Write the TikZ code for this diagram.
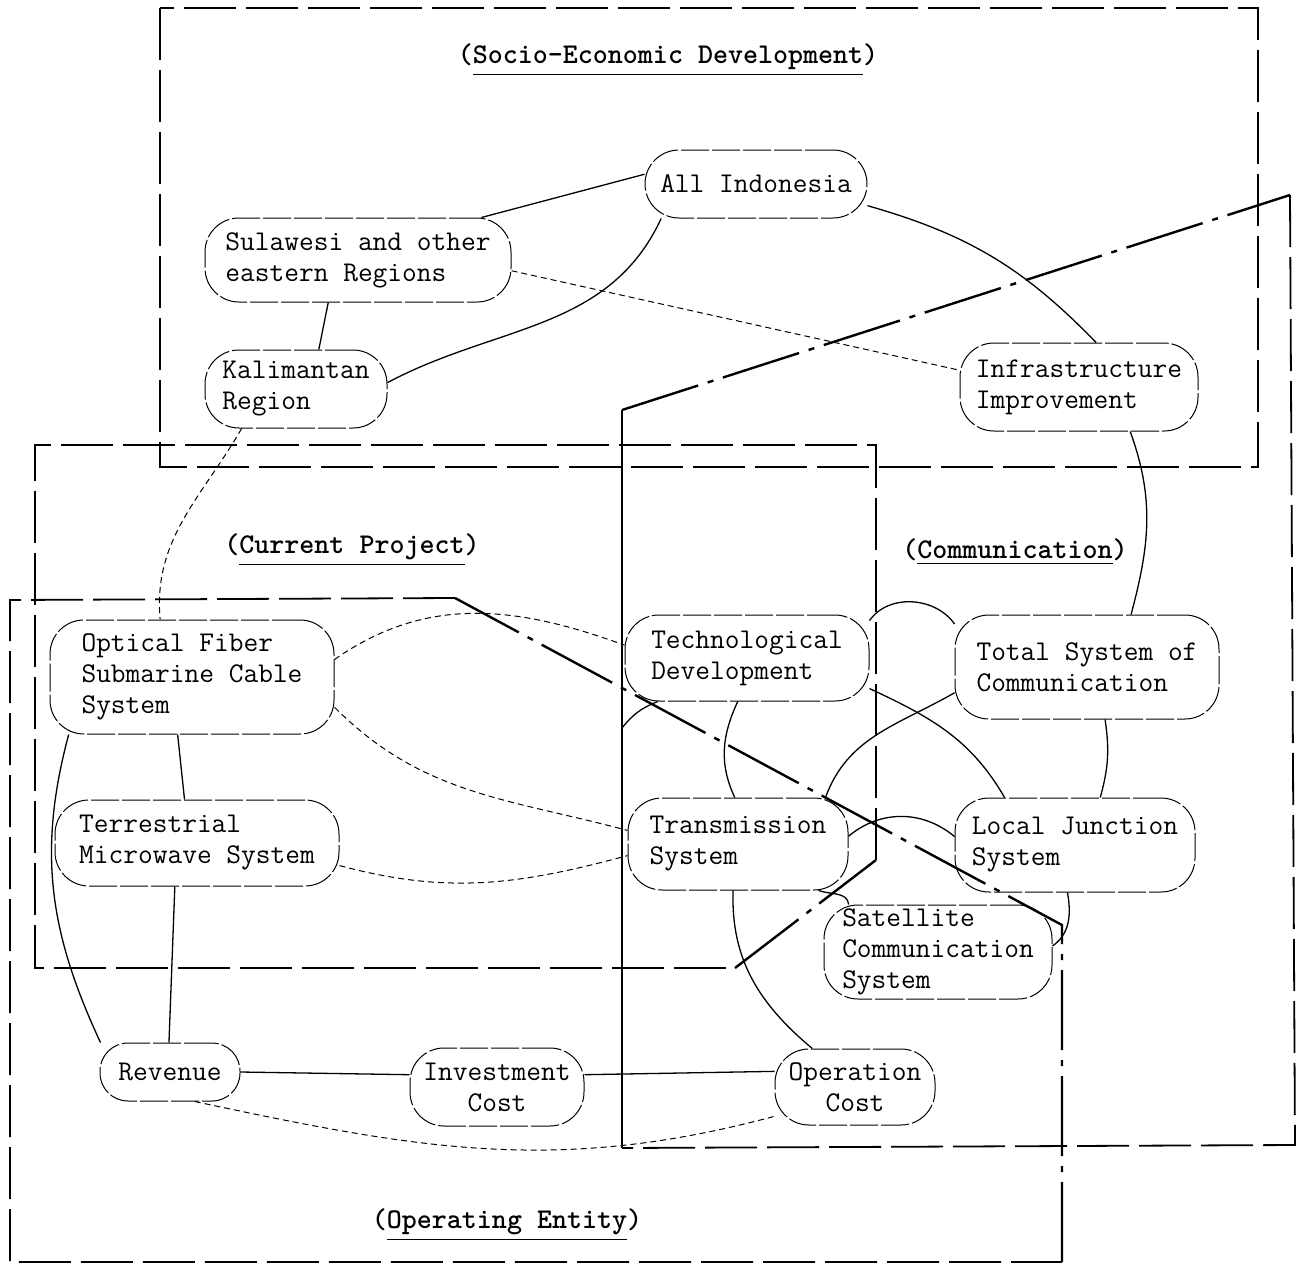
\documentclass[tikz,border=0pt]{standalone}
\usepackage{amsmath}
\usepackage{tikz}
\newcommand\boxfont{\ttfamily\fontsize{14.3}{15.5}\selectfont}
\newcommand\zonefont{\ttfamily\bfseries\fontsize{14.3}{15.5}\selectfont}

\begin{document}
\begin{tikzpicture}[x=0.5pt, y=-0.5pt,
            box/.style={draw, rounded corners=17pt, line width=0.5pt, dash pattern=on 14pt off 1.5pt, align=left, font=\boxfont, inner sep=0pt},
            link/.style={line width=0.65pt},
            faint/.style={line width=0.5pt, dash pattern=on 3pt off 2pt},
            zone/.style={line width=0.9pt, dash pattern=on 26pt off 5pt},
            cut/.style={line width=1.2pt, dash pattern=on 40pt off 5pt on 3pt off 5pt},
            title/.style={font=\zonefont}]
            \useasboundingbox (0,0) rectangle (1297,1264);
            \draw [zone] (160,8) rectangle (1258,467);
            \draw [zone] (876,860) -- (876,445) -- (35,445) -- (35,968) -- (735,968);
            \draw [cut] (735,968) -- (876,860);
            \draw [line width=1pt] (622,1148) -- (622,410);
            \draw [cut] (622,410) -- (1290,195);
            \draw [zone] (1290,195) -- (1295,1145) -- (622,1148);
            \draw [zone] (455,598) -- (10,600) -- (10,1262) -- (1062,1262);
            \draw [cut] (1062,1262) -- (1062,925) -- (455,598);
            \node (socio) at (668,60) [title] {(\underline{Socio-Economic Development})};
            \node (curr) at (352,550) [title] {(\underline{Current Project})};
            \node (comm) at (1015,552) [title] {(\underline{Communication})};
            \node (oper) at (507,1225) [title] {(\underline{Operating Entity})};
            \node (allindo) at (756,184) [box, minimum width=111pt, minimum height=34pt] {All Indonesia};
            \node (sul) at (358,260) [box, minimum width=153pt, minimum height=42pt] {Sulawesi and other\\eastern Regions};
            \node (kal) at (296,389) [box, minimum width=91pt, minimum height=39pt] {Kalimantan\\Region};
            \node (infra) at (1079,387) [box, minimum width=119pt, minimum height=44pt] {Infrastructure\\Improvement};
            \node (optic) at (192,677) [box, minimum width=142pt, minimum height=57pt] {Optical Fiber\\Submarine Cable\\System};
            \node (terr) at (197,843) [box, minimum width=142pt, minimum height=43pt] {Terrestrial\\Microwave System};
            \node (tech) at (747,658) [box, minimum width=122pt, minimum height=43pt] {Technological\\Development};
            \node (total) at (1087,667) [box, minimum width=132pt, minimum height=52pt] {Total System of\\Communication};
            \node (trans) at (738,844) [box, minimum width=110pt, minimum height=46pt] {Transmission\\System};
            \node (local) at (1075,845) [box, minimum width=120pt, minimum height=47pt] {Local Junction\\System};
            \node (sat) at (938,952) [box, minimum width=114pt, minimum height=47pt] {Satellite\\Communication\\System};
            \node (rev) at (170,1072) [box, rounded corners=14pt, minimum width=70pt, minimum height=29pt] {Revenue};
            \node (inv) at (497,1087) [box, align=center, minimum width=87pt, minimum height=39pt] {Investment\\Cost};
            \node (opcost) at (855,1087) [box, align=center, minimum width=80pt, minimum height=38pt] {Operation\\Cost};
            \coordinate (stubend) at (622,728);
            \draw [link] (sul.19) -- (allindo.175);
            \draw [link] (allindo.200) to[out=245, in=28] (kal.4);
            \draw [faint] (sul.-4) -- (infra.172);
            \draw [link] (sul.235) -- (kal.60);
            \draw [link] (allindo.-11) to[bend left=15] (infra.69);
            \draw [link] (infra.-41) to[out=-70, in=75] (total.50);
            \draw [faint] (kal.216) to[out=240, in=95] (optic.119);
            \draw [link] (optic.256) -- (terr.106);
            \draw [faint] (optic.7) to[out=35, in=160] (tech.174);
            \draw [faint] (optic.-12) to[out=-45, in=165] (trans.173);
            \draw [faint] (terr.-9) to[out=-15, in=195] (trans.186);
            \draw [link] (tech.206) to[bend right=15] (stubend);
            \draw [link] (tech.258) to[out=245, in=115] (trans.94);
            \draw [link] (tech.17) to[out=55, in=125] (total.162);
            \draw [link] (tech.-14) to[out=-25, in=120] (local.146);
            \draw [link] (total.191) to[out=210, in=70] (trans.28);
            \draw [link] (total.-71) to[bend left=12] (local.62);
            \draw [link] (trans.4) to[out=40, in=140] (local.176);
            \draw [link] (trans.-30) to[out=-20, in=95] (sat.152);
            \draw [link] (local.261) to[out=-80, in=35] (sat.3);
            \draw [link] (trans.264) to[out=268, in=140] (opcost.138);
            \draw [link] (optic.205) to[out=255, in=115] (rev.157);
            \draw [link] (terr.243) -- (rev.92);
            \draw [link] (rev.east) -- (inv.172);
            \draw [link] (inv.8) -- (opcost.169);
            \draw [faint] (rev.-50) to[out=-12, in=195] (opcost.200);
\end{tikzpicture}
\end{document}
